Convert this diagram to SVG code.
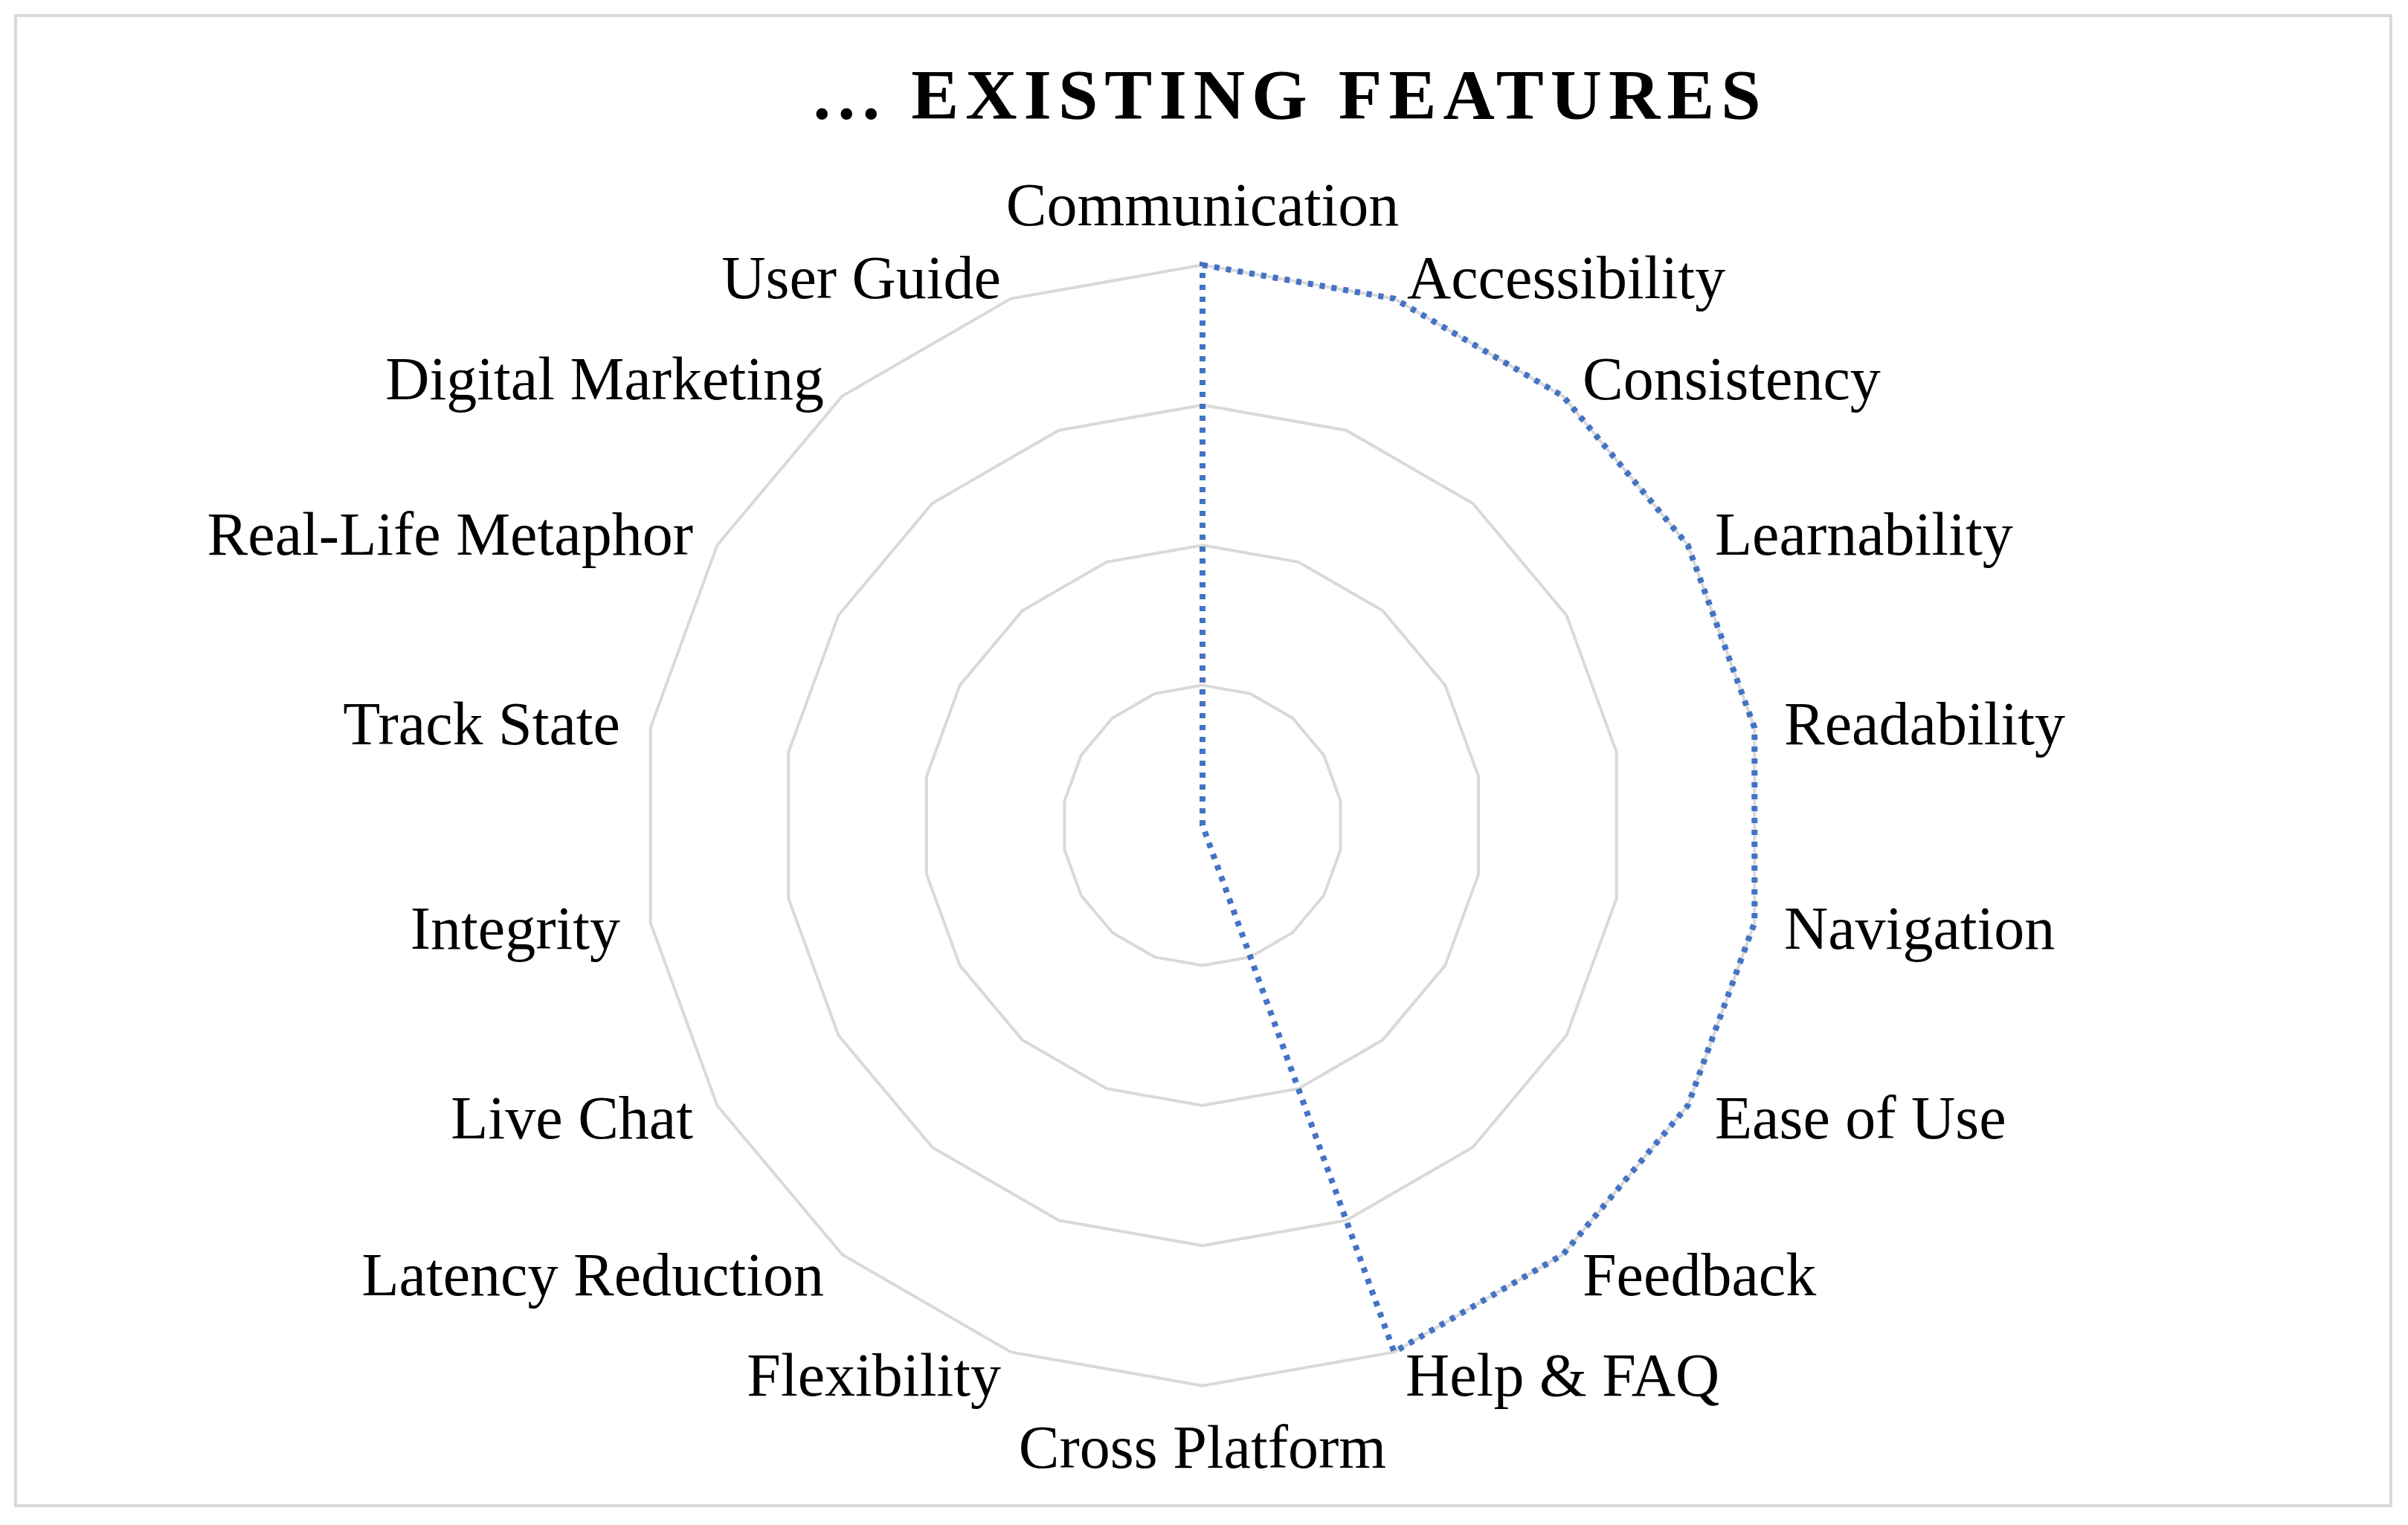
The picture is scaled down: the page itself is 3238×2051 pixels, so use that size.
<svg xmlns="http://www.w3.org/2000/svg" xmlns:xlink="http://www.w3.org/1999/xlink" width="3238" height="2051" viewBox="0 0 3238 2051">
<style>
.lbl{font-family:"Liberation Serif","Times New Roman",serif;font-size:82px;fill:#000}
.grid{fill:none;stroke:#D9D9D9;stroke-width:4}
</style>
<defs>
<polygon id="ring" points="0,-100 34.2,-94 64.3,-76.6 86.6,-50 98.5,-17.4 98.5,17.4 86.6,50 64.3,76.6 34.2,94 0,100 -34.2,94 -64.3,76.6 -86.6,50 -98.5,17.4 -98.5,-17.4 -86.6,-50 -64.3,-76.6 -34.2,-94" vector-effect="non-scaling-stroke"/>
</defs>
<rect x="0" y="0" width="3238" height="2051" fill="#fff"/>
<rect x="21" y="21" width="3194" height="2004" fill="#fff" stroke="#D9D9D9" stroke-width="4"/>
<text x="1735" y="160" text-anchor="middle" font-family="Liberation Serif,serif" font-weight="bold" font-size="96" letter-spacing="9">... EXISTING FEATURES</text>
<g id="gridlines" class="grid">
<use xlink:href="#ring" href="#ring" transform="translate(1617,1110) scale(1.884)"/>
<use xlink:href="#ring" href="#ring" transform="translate(1617,1110) scale(3.768)"/>
<use xlink:href="#ring" href="#ring" transform="translate(1617,1110) scale(5.652)"/>
<use xlink:href="#ring" href="#ring" transform="translate(1617,1110) scale(7.536)"/>
</g>
<g id="connectors">
<polygon points="1617,356.4 1874.7,401.6 2101.6,532.7 2269.6,733.2 2359.3,978.9 2359.3,1241.1 2269.6,1486.8 2101.6,1687.3 1874.7,1818.4 1617,1110" fill="none" stroke="#4472C4" stroke-width="8" stroke-dasharray="7 9"/>
</g>
<g id="labels" class="lbl">
<text id="n0" x="1617" y="303" text-anchor="middle">Communication</text>
<text id="n1" x="1892" y="401">Accessibility</text>
<text id="n2" x="2128" y="537">Consistency</text>
<text id="n3" x="2306" y="746">Learnability</text>
<text id="n4" x="2399" y="1001">Readability</text>
<text id="n5" x="2399" y="1276">Navigation</text>
<text id="n6" x="2306" y="1531">Ease of Use</text>
<text id="n7" x="2128" y="1742">Feedback</text>
<text id="n8" x="1890" y="1877">Help &amp; FAQ</text>
<text id="n9" x="1617" y="1974" text-anchor="middle">Cross Platform</text>
<text id="n10" x="1346" y="1877" text-anchor="end">Flexibility</text>
<text id="n11" x="1108" y="1742" text-anchor="end">Latency Reduction</text>
<text id="n12" x="932" y="1531" text-anchor="end">Live Chat</text>
<text id="n13" x="834" y="1276" text-anchor="end">Integrity</text>
<text id="n14" x="834" y="1001" text-anchor="end">Track State</text>
<text id="n15" x="932" y="746" text-anchor="end">Real-Life Metaphor</text>
<text id="n16" x="1108" y="537" text-anchor="end">Digital Marketing</text>
<text id="n17" x="1346" y="401" text-anchor="end">User Guide</text>
</g>
</svg>
